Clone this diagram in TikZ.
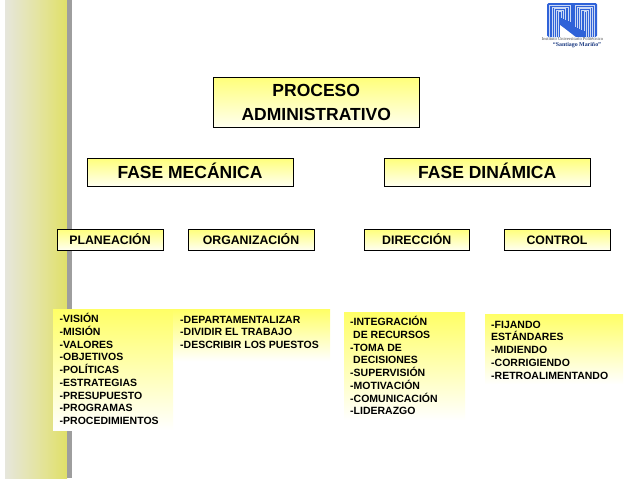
\documentclass[tikz,border=0pt]{standalone}
\usepackage{fontspec}
\setmainfont{Liberation Sans}
\newfontfamily\lserif{Liberation Serif}
\newcommand{\topstrut}{\rule{0pt}{10pt}}
\newcommand{\midstrut}{\rule[-2pt]{0pt}{14pt}}
\definecolor{boxtop}{HTML}{FFFF7A}
\definecolor{boxbot}{HTML}{FFFFF0}
\definecolor{listtop}{HTML}{FFFF66}
\definecolor{bandl}{HTML}{E6E6DC}
\definecolor{bandr}{HTML}{E0E068}
\definecolor{bandm}{HTML}{E4E4A4}
\definecolor{logoblue}{HTML}{2F62D8}
\tikzset{
  x=1pt,y=-1pt,
  hbox/.style={draw=black,line width=0.8pt,top color=boxtop,bottom color=boxbot,inner sep=0pt,align=center,text=black,font=\bfseries},
  big/.style={hbox,minimum width=206pt,font=\fontsize{17.5}{23.5}\selectfont\bfseries},
  small/.style={hbox,minimum height=21pt,font=\fontsize{12.3}{14}\selectfont\bfseries},
  listbg/.style={top color=listtop,bottom color=white,inner sep=0pt,anchor=north west},
  listtxt/.style={anchor=north west,inner sep=0pt,align=left,font=\fontsize{10.5}{12.75}\selectfont\bfseries},
  logoline/.style={draw=white!75!logoblue,line width=0.35pt}
}
\begin{document}
\begin{tikzpicture}
\useasboundingbox (0,0) rectangle (638,479);
\fill[white] (0,0) rectangle (638,479);
% side band
\shade[left color=bandl,right color=bandr,middle color=bandm] (5,0) rectangle (67,478);
\fill[black!38] (67,0) rectangle (72,478);
% logo
\fill[logoblue,rounded corners=1.5pt] (547,3) rectangle (597,37);
\foreach \i in {0,1,2,3,4} {
  \draw[logoline] ({549.5+2.2*\i},37) -- ({549.5+2.2*\i},{5.5+1.4*\i}) -- ({570-2.2*\i},{5.5+1.4*\i}) -- ({570-2.2*\i},{22-1*\i});
  \draw[logoline] ({594.5-2.2*\i},37) -- ({594.5-2.2*\i},{5.5+1.4*\i}) -- ({575+2.2*\i},{5.5+1.4*\i}) -- ({575+2.2*\i},{27+1*\i});
}
\fill[white] (560,25) -- (577,38) -- (560,38) -- cycle;
\node[inner sep=0pt,font=\lserif\fontsize{4.5}{5}\selectfont,text=black!70] (logot1) at (572.5,39) {Instituto Universitario Politécnico};
\node[inner sep=0pt,font=\lserif\fontsize{5.9}{7}\selectfont\bfseries,text=logoblue!60!black] (logot2) at (577,45.5) {“Santiago Mariño”};
% headers
\node[big,minimum height=50.5pt,minimum width=206.5pt] (proc) at (316.25,102.25) {PROCESO\\ADMINISTRATIVO};
\node[big,minimum height=28pt] (mec) at (190,172) {\midstrut FASE MECÁNICA};
\node[big,minimum height=28pt] (din) at (487.25,172) {\midstrut FASE DINÁMICA};
\node[small,minimum width=106pt] (plan) at (110,239.5) {\midstrut PLANEACIÓN};
\node[small,minimum width=126pt] (org) at (251,239.5) {\midstrut ORGANIZACIÓN};
\node[small,minimum width=105.5pt] (dir) at (416.75,239.5) {\midstrut DIRECCIÓN};
\node[small,minimum width=106pt] (ctl) at (557,239.5) {\midstrut CONTROL};
% list backgrounds
\node[listbg,minimum width=120pt,minimum height=121pt] (b1) at (53,309) {};
\node[listbg,minimum width=157pt,minimum height=52pt] (b2) at (173,309) {};
\node[listbg,minimum width=121pt,minimum height=108pt] (b3) at (344,312) {};
\node[listbg,minimum width=138pt,minimum height=70pt] (b4) at (485,314) {};
% lists
\node[listtxt] (l1) at (59.5,312.5) {\topstrut-VISIÓN\\-MISIÓN\\-VALORES\\-OBJETIVOS\\-POLÍTICAS\\-ESTRATEGIAS\\-PRESUPUESTO\\-PROGRAMAS\\-PROCEDIMIENTOS};
\node[listtxt] (l2) at (180,313) {\topstrut-DEPARTAMENTALIZAR\\-DIVIDIR EL TRABAJO\\-DESCRIBIR LOS PUESTOS};
\node[listtxt] (l3) at (350,315.5) {\topstrut-INTEGRACIÓN\\\hspace*{3pt}DE RECURSOS\\-TOMA DE\\\hspace*{3pt}DECISIONES\\-SUPERVISIÓN\\-MOTIVACIÓN\\-COMUNICACIÓN\\-LIDERAZGO};
\node[listtxt] (l4) at (491,318) {\topstrut-FIJANDO\\ESTÁNDARES\\-MIDIENDO\\-CORRIGIENDO\\-RETROALIMENTANDO};
\end{tikzpicture}
\end{document}
